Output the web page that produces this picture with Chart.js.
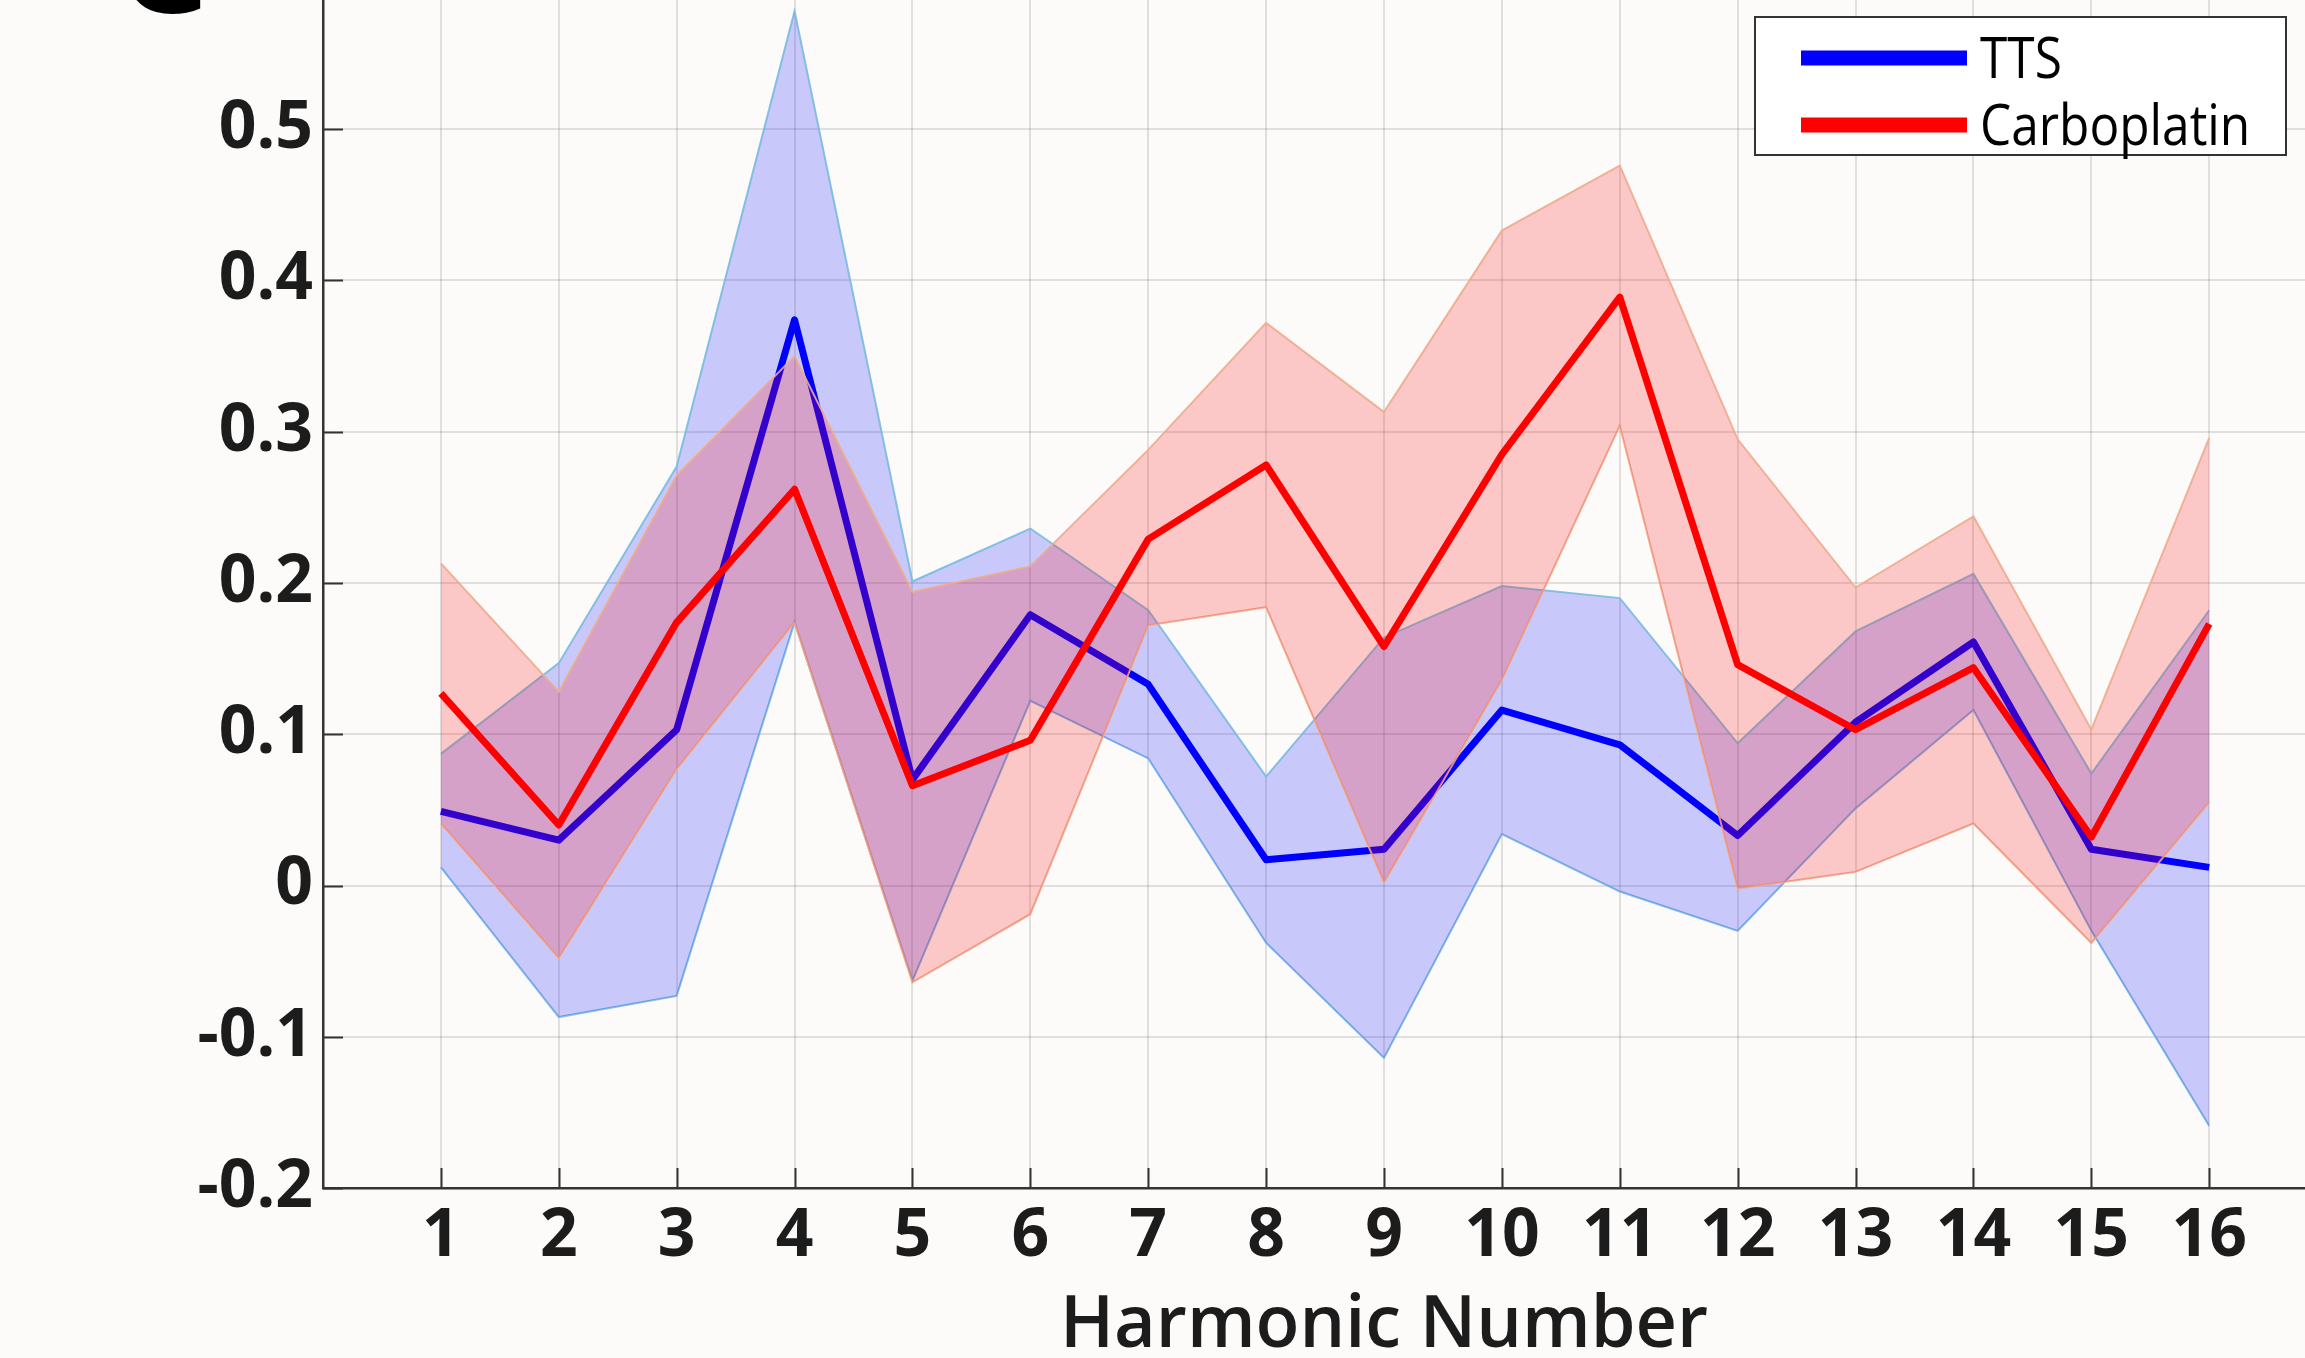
<!DOCTYPE html>
<html>
<head>
<meta charset="utf-8">
<title>Harmonic Number</title>
<script src="https://cdn.jsdelivr.net/npm/chart.js@4.4.1/dist/chart.umd.min.js"></script>
<style>
  html, body { margin: 0; padding: 0; background: #fcfbf9; overflow: hidden; width: 2305px; height: 1358px; }
  #wrap { position: absolute; left: 0; top: -22px; width: 2445px; height: 1380px; }
</style>
</head>
<body>
<div id="wrap"><canvas id="harmChart" width="2445" height="1380"></canvas></div>
<script>
'use strict';

// harmonics on the x axis
const harmonics = [1, 2, 3, 4, 5, 6, 7, 8, 9, 10, 11, 12, 13, 14, 15, 16];

// TTS: mean and band
const ttsMean  = [0.049, 0.030, 0.103, 0.374, 0.070, 0.179, 0.133, 0.017, 0.024, 0.116, 0.093, 0.033, 0.108, 0.161, 0.024, 0.012];
const ttsUpper = [0.087, 0.147, 0.277, 0.578, 0.201, 0.236, 0.182, 0.072, 0.164, 0.198, 0.190, 0.094, 0.168, 0.206, 0.074, 0.182];
const ttsLower = [0.012, -0.087, -0.073, 0.174, -0.063, 0.122, 0.084, -0.038, -0.114, 0.034, -0.004, -0.030, 0.051, 0.116, -0.030, -0.159];

// Carboplatin: mean and band
const carboMean  = [0.127, 0.040, 0.174, 0.262, 0.066, 0.096, 0.229, 0.278, 0.158, 0.285, 0.389, 0.146, 0.103, 0.144, 0.032, 0.173];
const carboUpper = [0.213, 0.128, 0.271, 0.350, 0.194, 0.211, 0.288, 0.372, 0.313, 0.433, 0.476, 0.295, 0.197, 0.244, 0.103, 0.296];
const carboLower = [0.041, -0.048, 0.077, 0.174, -0.064, -0.019, 0.172, 0.184, 0.002, 0.136, 0.304, -0.002, 0.009, 0.041, -0.038, 0.055];

const seriesNames = ['TTS', 'Carboplatin'];
const seriesColors = ['#0000ff', '#ff0000'];

const pts = ys => harmonics.map((h, i) => ({ x: h, y: ys[i] }));

const FONT = '"Open Sans", "Noto Sans", sans-serif';
const TEXT = '#1c1c1c';

// inward tick marks, like the original
const innerTicks = {
    id: 'innerTicks',
    afterDatasetsDraw(chart) {
        const { ctx, chartArea } = chart;
        const xs = chart.scales.x, ys = chart.scales.y;
        ctx.save();
        ctx.strokeStyle = '#333';
        ctx.lineWidth = 2;
        ctx.beginPath();
        harmonics.forEach(h => {
            const px = Math.round(xs.getPixelForValue(h)) + 0.5;
            ctx.moveTo(px, chartArea.bottom);
            ctx.lineTo(px, chartArea.bottom - 20);
        });
        for (let k = -2; k <= 5; k++) {
            const py = Math.round(ys.getPixelForValue(k / 10)) + 0.5;
            ctx.moveTo(chartArea.left, py);
            ctx.lineTo(chartArea.left + 20, py);
        }
        ctx.stroke();
        ctx.restore();
    }
};

// boxed legend in the upper right and the panel letter
const boxLegend = {
    id: 'boxLegend',
    afterDraw(chart) {
        const ctx = chart.ctx;
        const dy = 22;
        ctx.save();
        ctx.fillStyle = '#ffffff';
        ctx.fillRect(1755, 17 + dy, 531, 138);
        ctx.strokeStyle = '#333';
        ctx.lineWidth = 2;
        ctx.strokeRect(1755, 17 + dy, 531, 138);
        const rows = [58, 125];
        seriesNames.forEach((name, i) => {
            ctx.fillStyle = seriesColors[i];
            ctx.fillRect(1801, rows[i] - 7.5 + dy, 166, 15);
            ctx.save();
            ctx.translate(1980, rows[i] + 20 + dy);
            ctx.scale(0.87, 1);
            ctx.fillStyle = '#000';
            ctx.font = '400 57px ' + FONT;
            ctx.textBaseline = 'alphabetic';
            ctx.fillText(name, 0, 0);
            ctx.restore();
        });
        // panel letter, mostly cropped off the top
        ctx.fillStyle = '#000';
        ctx.font = '800 140px ' + FONT;
        ctx.textBaseline = 'alphabetic';
        ctx.fillText('C', 118, 13 + dy);
        ctx.restore();
    }
};

const ctx = document.getElementById('harmChart').getContext('2d');

new Chart(ctx, {
    type: 'line',
    data: {
        datasets: [
            {
                label: seriesNames[0],
                data: pts(ttsMean),
                borderColor: seriesColors[0],
                borderWidth: 7,
                borderJoinStyle: 'round',
                pointRadius: 0,
                fill: false,
                order: 3
            },
            {
                label: seriesNames[1],
                data: pts(carboMean),
                borderColor: seriesColors[1],
                borderWidth: 7,
                borderJoinStyle: 'round',
                pointRadius: 0,
                fill: false,
                order: 1
            },
            {
                label: 'TTS upper',
                data: pts(ttsUpper),
                borderColor: 'rgba(120,185,225,0.9)',
                borderWidth: 2,
                backgroundColor: 'rgba(0,0,255,0.2)',
                pointRadius: 0,
                fill: 3,
                order: 4
            },
            {
                label: 'TTS lower',
                data: pts(ttsLower),
                borderColor: 'rgba(120,185,225,0.9)',
                borderWidth: 2,
                pointRadius: 0,
                fill: false,
                order: 4
            },
            {
                label: 'Carboplatin upper',
                data: pts(carboUpper),
                borderColor: 'rgba(238,170,140,0.9)',
                borderWidth: 2,
                backgroundColor: 'rgba(255,0,0,0.2)',
                pointRadius: 0,
                fill: 5,
                order: 2
            },
            {
                label: 'Carboplatin lower',
                data: pts(carboLower),
                borderColor: 'rgba(238,170,140,0.9)',
                borderWidth: 2,
                pointRadius: 0,
                fill: false,
                order: 2
            }
        ]
    },
    options: {
        responsive: false,
        animation: false,
        maintainAspectRatio: false,
        devicePixelRatio: 1,
        layout: { padding: 0 },
        plugins: {
            legend: { display: false },
            tooltip: { enabled: false }
        },
        scales: {
            x: {
                type: 'linear',
                min: 0,
                max: 18,
                afterFit(scale) {
                    scale.height = 170;
                    scale.paddingLeft = 0;
                    scale.paddingRight = 0;
                },
                grid: { color: 'rgba(0,0,0,0.11)', lineWidth: 2, drawTicks: false },
                border: { display: true, color: '#333', width: 2.5 },
                ticks: {
                    stepSize: 1,
                    maxTicksLimit: 100,
                    autoSkip: false,
                    maxRotation: 0,
                    padding: 10,
                    color: TEXT,
                    font: { family: FONT, size: 66, weight: '700' },
                    callback: v => (v >= 1 && v <= 16 ? String(v) : null)
                },
                title: {
                    display: true,
                    text: 'Harmonic Number',
                    color: TEXT,
                    font: { family: FONT, size: 72, weight: '600' },
                    padding: { top: 0, bottom: -12 }
                }
            },
            y: {
                min: -0.2,
                max: 0.6,
                afterFit(scale) {
                    scale.width = 323;
                    scale.paddingTop = 0;
                    scale.paddingBottom = 0;
                },
                grid: { color: 'rgba(0,0,0,0.11)', lineWidth: 2, drawTicks: false },
                border: { display: true, color: '#333', width: 2.5 },
                ticks: {
                    stepSize: 0.1,
                    padding: 10,
                    color: TEXT,
                    font: { family: FONT, size: 66, weight: '700' },
                    callback: v => {
                        const r = Math.round(v * 10) / 10;
                        if (r > 0.55) return null;
                        return r === 0 ? '0' : r.toFixed(1);
                    }
                }
            }
        }
    },
    plugins: [innerTicks, boxLegend]
});
</script>
</body>
</html>
